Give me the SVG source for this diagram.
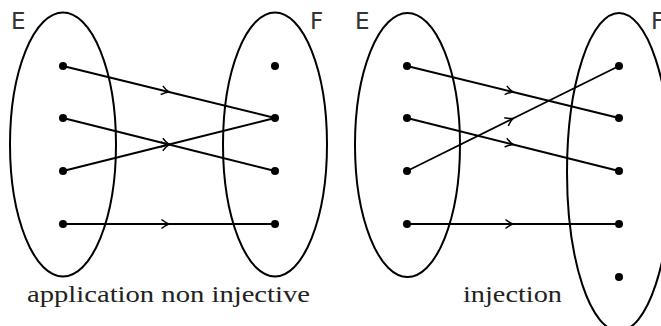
<svg xmlns="http://www.w3.org/2000/svg" width="661" height="326" viewBox="0 0 661 326">
<style>
.set{fill:none;stroke:#000;stroke-width:2}
.pt{fill:#000}
.edge{fill:none;stroke:#000;stroke-width:1.9;marker-mid:url(#ah)}
.lbl{font-family:"DejaVu Sans","Liberation Sans",sans-serif;font-size:23px;fill:#333}
.cap{font-family:"Liberation Serif","DejaVu Serif",serif;font-size:23px;fill:#222}
</style>
<defs>
<marker id="ah" markerUnits="userSpaceOnUse" markerWidth="14" markerHeight="12" viewBox="-9 -6 11 12" refX="0" refY="0" orient="auto">
<path d="M-7.5,-4.5 Q-3,-1 0,0 Q-3,1 -7.5,4.5" fill="none" stroke="#000" stroke-width="1.5"/>
</marker>
</defs>
<g id="left-E">
<ellipse class="set" cx="63" cy="144.5" rx="53" ry="132"/>
<text class="lbl" x="11" y="29">E</text>
<circle class="pt" cx="63" cy="66" r="4"/>
<circle class="pt" cx="63" cy="118" r="4"/>
<circle class="pt" cx="63" cy="171" r="4"/>
<circle class="pt" cx="63" cy="224" r="4"/>
</g>
<g id="left-F">
<ellipse class="set" cx="275" cy="144.5" rx="52" ry="132"/>
<text class="lbl" x="310" y="29">F</text>
<circle class="pt" cx="275" cy="66" r="4"/>
<circle class="pt" cx="275" cy="118" r="4"/>
<circle class="pt" cx="275" cy="171" r="4"/>
<circle class="pt" cx="275" cy="224" r="4"/>
</g>
<g id="right-E">
<ellipse class="set" cx="407.5" cy="145" rx="52.5" ry="132"/>
<text class="lbl" x="355" y="29">E</text>
<circle class="pt" cx="407" cy="66" r="4"/>
<circle class="pt" cx="407" cy="118" r="4"/>
<circle class="pt" cx="407" cy="171" r="4"/>
<circle class="pt" cx="407" cy="224" r="4"/>
</g>
<g id="right-F">
<ellipse class="set" cx="619" cy="172" rx="52" ry="159"/>
<text class="lbl" x="651" y="29">F</text>
<circle class="pt" cx="619" cy="66" r="4"/>
<circle class="pt" cx="619" cy="118" r="4"/>
<circle class="pt" cx="619" cy="171" r="4"/>
<circle class="pt" cx="619" cy="224" r="4"/>
<circle class="pt" cx="619" cy="277" r="4"/>
</g>
<g id="connectors">
<path class="edge" d="M63,66 L169,92 L275,118"/>
<path class="edge" d="M63,118 L169,144.5 L275,171"/>
<path class="edge" d="M63,171 L169,144.5 L275,118"/>
<path class="edge" d="M63,224 L169,224 L275,224"/>
<path class="edge" d="M407,66 L513,92 L619,118"/>
<path class="edge" d="M407,118 L513,144.5 L619,171"/>
<path class="edge" d="M407,171 L513,118.5 L619,66"/>
<path class="edge" d="M407,224 L513,224 L619,224"/>
</g>
<g id="captions">
<text class="cap" x="168.5" y="302" text-anchor="middle" textLength="283" lengthAdjust="spacingAndGlyphs">application non injective</text>
<text class="cap" x="512.5" y="302" text-anchor="middle" textLength="99" lengthAdjust="spacingAndGlyphs">injection</text>
</g>
</svg>
